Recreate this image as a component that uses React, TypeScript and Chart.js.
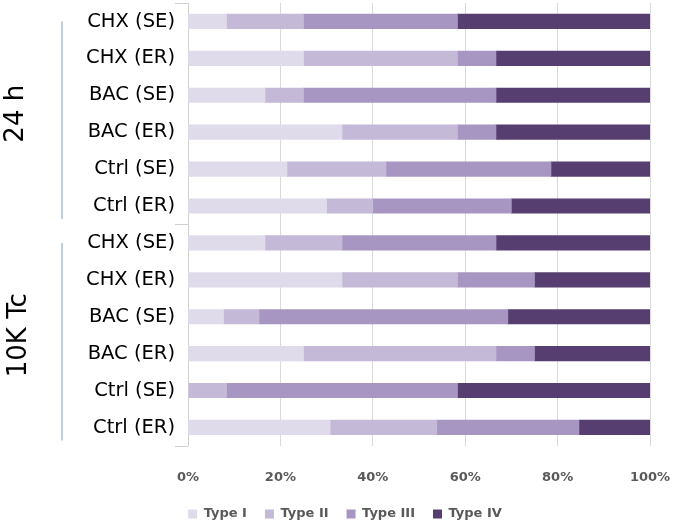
import React, { useEffect, useRef } from "react";
import { Chart, registerables } from "chart.js";

Chart.register(...registerables);

const categories = [
  "CHX (SE)", "CHX (ER)", "BAC (SE)", "BAC (ER)", "Ctrl (SE)", "Ctrl (ER)",
  "CHX (SE)", "CHX (ER)", "BAC (SE)", "BAC (ER)", "Ctrl (SE)", "Ctrl (ER)",
];
const groups = ["24 h", "10K Tc"];
const typeI = [8.33, 25, 16.67, 33.33, 21.43, 30, 16.67, 33.33, 7.69, 25, 0, 30.77];
const typeII = [16.67, 33.33, 8.33, 25, 21.43, 10, 16.67, 25, 7.69, 41.67, 8.33, 23.08];
const typeIII = [33.33, 8.33, 41.67, 8.33, 35.71, 30, 33.33, 16.67, 53.85, 8.33, 50, 30.77];
const typeIV = [41.67, 33.33, 33.33, 33.33, 21.43, 30, 33.33, 25, 30.77, 25, 41.67, 15.38];
const seriesNames = ["Type I", "Type II", "Type III", "Type IV"];
const xTicks = [0, 20, 40, 60, 80, 100];

const colors = ["#e0dbea", "#c4b9d7", "#a896c2", "#563f70"];

const groupPlugin = {
  id: "groupLabels",
  afterDraw(chart: any) {
    const ctx = chart.ctx;
    const y = chart.scales.y;
    const area = chart.chartArea;
    const n = categories.length;
    const per = n / groups.length;
    const step = (area.bottom - area.top) / n;
    ctx.save();
    ctx.strokeStyle = "#d0d0d0";
    ctx.lineWidth = 1;
    for (let g = 0; g <= groups.length; g++) {
      const py = Math.round(area.top + g * per * step) + 0.5;
      ctx.beginPath();
      ctx.moveTo(area.left - 13, py);
      ctx.lineTo(area.left, py);
      ctx.stroke();
    }
    ctx.restore();
    groups.forEach((name, g) => {
      const first = y.getPixelForValue(g * per);
      const last = y.getPixelForValue(g * per + per - 1);
      ctx.save();
      ctx.strokeStyle = "#a9bfcf";
      ctx.lineWidth = 1.5;
      ctx.beginPath();
      ctx.moveTo(62, first);
      ctx.lineTo(62, last + 13);
      ctx.stroke();
      const cy = area.top + (g + 0.5) * per * step;
      ctx.translate(g === 0 ? 16 : 19, cy);
      ctx.rotate(-Math.PI / 2);
      ctx.fillStyle = "#000";
      ctx.font = "26px 'DejaVu Sans', sans-serif";
      ctx.textAlign = "center";
      ctx.textBaseline = "middle";
      ctx.fillText(name, 0, 0);
      ctx.restore();
    });
  },
};

export default function App() {
  const ref = useRef<HTMLCanvasElement>(null);
  useEffect(() => {
    if (!ref.current) return;
    const data = [typeI, typeII, typeIII, typeIV];
    const chart = new Chart(ref.current, {
      type: "bar",
      data: {
        labels: categories,
        datasets: seriesNames.map((name, i) => ({
          label: name,
          data: data[i],
          backgroundColor: colors[i],
          borderWidth: 0,
          barThickness: 14.5,
        })),
      },
      options: {
        indexAxis: "y",
        animation: false,
        responsive: true,
        maintainAspectRatio: false,
        layout: { padding: { top: 3, right: 26, left: 40, bottom: -4.5 } },
        plugins: {
          legend: {
            position: "bottom",
            labels: {
              boxWidth: 9,
              boxHeight: 9,
              padding: 18,
              color: "#595959",
              font: { family: "'DejaVu Sans', sans-serif", size: 13, weight: "bold" },
            },
          },
          tooltip: { enabled: false },
        },
        scales: {
          x: {
            stacked: true,
            min: 0,
            max: 100,
            afterBuildTicks: (axis: any) => {
              axis.ticks = xTicks.map((v) => ({ value: v }));
            },
            afterFit: (axis: any) => {
              axis.height += 1;
            },
            ticks: {
              callback: (v: any) => v + "%",
              color: "#595959",
              padding: 3,
              font: { family: "'DejaVu Sans', sans-serif", size: 13, weight: "bold" },
            },
            grid: { color: "#d9d9d9", drawTicks: true, tickLength: 21, tickColor: "rgba(0,0,0,0)" },
            border: { display: false },
          },
          y: {
            stacked: true,
            afterFit: (axis: any) => {
              axis.width = 148;
            },
            ticks: {
              color: "#000",
              padding: 0,
              font: { family: "'DejaVu Sans', sans-serif", size: 19.5, lineHeight: 0.3 },
            },
            grid: { display: true, drawOnChartArea: false, drawTicks: true, tickLength: 13, tickColor: "rgba(0,0,0,0)" },
            border: { display: true, color: "#d0d0d0" },
          },
        },
      },
      plugins: [groupPlugin],
    });
    return () => chart.destroy();
  }, []);
  return (
    <div style={{ position: "fixed", left: 0, top: 0, width: 676, height: 526, background: "#fff" }}>
      <canvas ref={ref} />
    </div>
  );
}
